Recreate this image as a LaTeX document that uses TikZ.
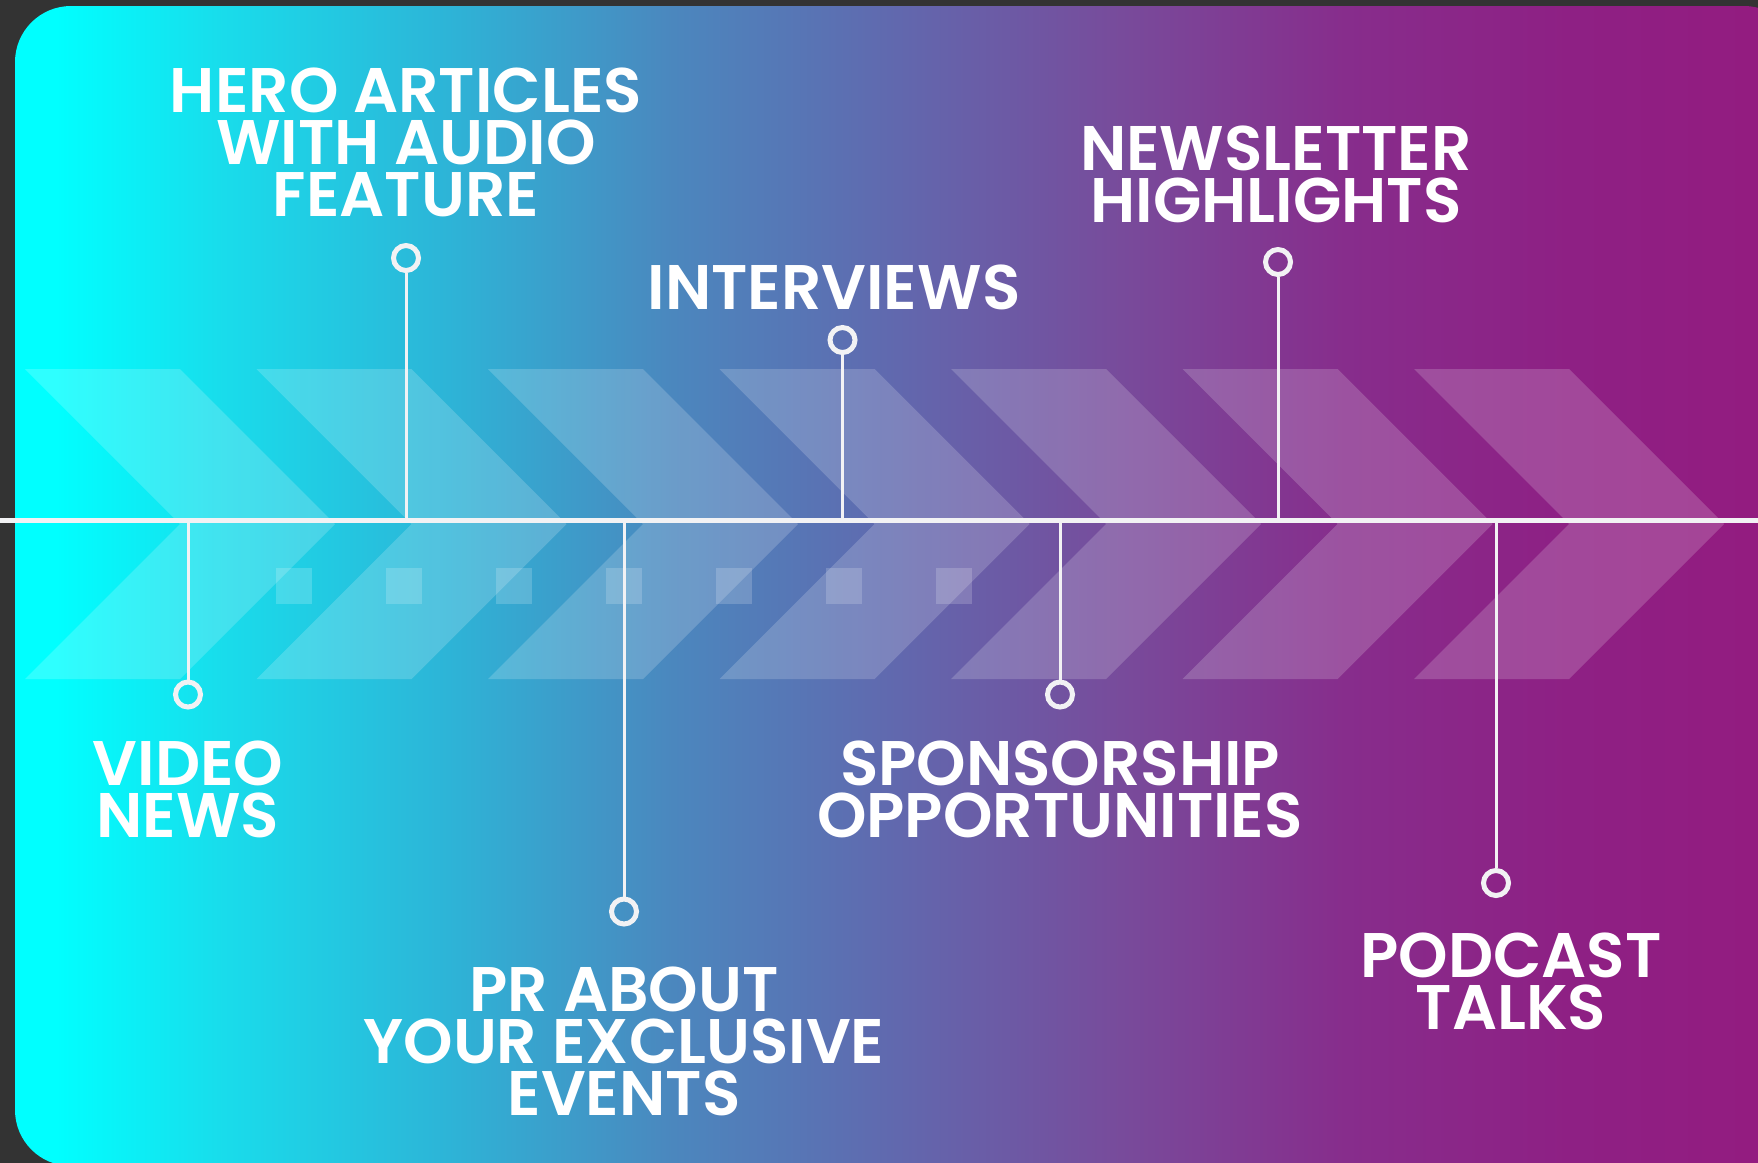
\documentclass[tikz,border=0pt]{standalone}
\usepackage{fontspec}
\setmainfont{Poppins}[BoldFont={Poppins SemiBold}]
\usepackage{tikz}
\usepackage{color}

\definecolor{frame}{HTML}{333333}
\definecolor{wire}{HTML}{F2F2F4}
\definecolor{fadeA}{RGB}{0,255,255}
\definecolor{fadeB}{RGB}{25,220,235}
\definecolor{fadeC}{RGB}{45,180,215}
\definecolor{fadeD}{RGB}{75,135,190}
\definecolor{fadeE}{RGB}{97,104,174}
\definecolor{fadeF}{RGB}{120,75,155}
\definecolor{fadeG}{RGB}{135,45,140}
\definecolor{fadeH}{RGB}{142,32,132}
\definecolor{fadeI}{RGB}{147,28,128}
\pgfdeclarehorizontalshading{panelfade}{100bp}{color(0bp)=(fadeA); color(26.15bp)=(fadeA);
  color(30.85bp)=(fadeB); color(37.13bp)=(fadeC); color(43.43bp)=(fadeD); color(49.71bp)=(fadeE);
  color(55.98bp)=(fadeF); color(62.25bp)=(fadeG); color(68.56bp)=(fadeH); color(73.82bp)=(fadeI);
  color(100bp)=(fadeI)}

\begin{document}
\begin{tikzpicture}[x=0.5pt, y=-0.5pt,
    chev/.style={fill=white, fill opacity=0.18},
    stem/.style={draw=wire, line width=1.5pt},
    dot/.style={circle, draw=wire, line width=2.5pt, minimum size=12.5pt, inner sep=0pt},
    tag/.style={text=white, font=\bfseries\fontsize{31.5}{26}\selectfont, align=center, inner sep=0pt}]
			\useasboundingbox (0,0) rectangle (1758,1163);
			\clip (0,0) rectangle (1758,1163);
			\fill[frame] (0,0) rectangle (1758,1163);
			\shade[shading=panelfade, rounded corners=28pt] (15,6) rectangle (1800,1166);
			\foreach \i in {0,...,6}
				\fill[chev] ({25+231.5*\i},369) -- ++(155,0) -- ++(155,155) -- ++(-155,155) -- ++(-155,0) -- ++(155,-155) -- cycle;
			\foreach \i in {0,...,6}
				\fill[chev] ({276+110*\i},568) rectangle ++(36,36);
			\coordinate (axis-w) at (0,520);
			\coordinate (axis-e) at (1758,520);
			\draw[wire, line width=2.5pt] (axis-w) -- (axis-e);
			\node[dot] (video-dot) at (188,694.5) {};
			\node[dot] (hero-dot) at (406,258) {};
			\node[dot] (pr-dot) at (624,911.5) {};
			\node[dot] (interviews-dot) at (842.5,340) {};
			\node[dot] (sponsor-dot) at (1060,694.5) {};
			\node[dot] (newsletter-dot) at (1278,262) {};
			\node[dot] (podcast-dot) at (1496,883) {};
			\foreach \d in {video,hero,pr,interviews,sponsor,newsletter,podcast}
				\draw[stem] (\d-dot) -- (\d-dot |- axis-w);
			\node[tag, anchor=south] (hero) at (406,217) {HERO ARTICLES\\WITH AUDIO\\FEATURE};
			\node[tag, anchor=south] (interviews) at (834,310) {INTERVIEWS};
			\node[tag, anchor=south] (newsletter) at (1276,223) {NEWSLETTER\\HIGHLIGHTS};
			\node[tag, anchor=south] (video) at (188,838) {VIDEO\\NEWS};
			\node[tag, anchor=south] (sponsor) at (1060,838) {SPONSORSHIP\\OPPORTUNITIES};
			\node[tag, anchor=south] (pr) at (624,1116) {PR ABOUT\\YOUR EXCLUSIVE\\EVENTS};
			\node[tag, anchor=south] (podcast) at (1511,1030) {PODCAST\\TALKS};
		\end{tikzpicture}
\end{document}
